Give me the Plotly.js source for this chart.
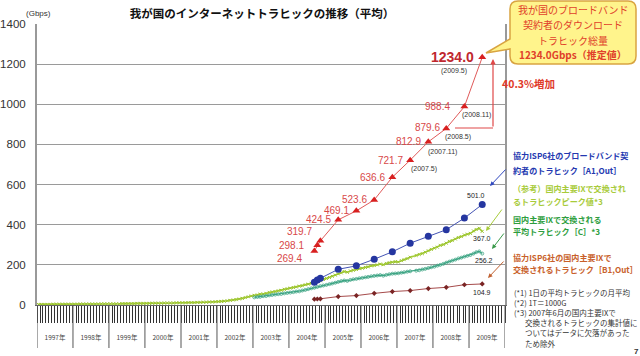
<!DOCTYPE html>
<html>
<head>
<meta charset="utf-8">
<script src="https://cdn.plot.ly/plotly-3.0.1.min.js"></script>
<style>html,body{margin:0;padding:0;background:#fff;}#chart{width:640px;height:356px;}</style>
</head>
<body>
<div id="chart"></div>
<script>
// ---------- data ----------
const years = [1997,1998,1999,2000,2001,2002,2003,2004,2005,2006,2007,2008,2009];

// (参考) 国内主要IXピーク値, monthly from 1997-01 (2007-06 excluded)
const peakValues = [
  3,3,3,3,3,4,4,4,4,4,4,4,
  4,4,5,5,5,5,5,5,5,6,6,6,
  6,6,6,6,7,7,7,7,7,8,8,8,
  8,8,9,9,9,9,10,10,10,10,11,11,
  11,11,12,12,12,13,13,14,14,15,15,16,
  17,18,19,21,23,25,27,30,33,37,41,45,
  48,50,54,55,58,63,65,67,71,73,78,81,
  84,87,90,94,96,101,104,108,111,117,121,127,
  132,137,143,149,155,160,167,163,170,173,177,181,
  183,187,190,195,197,200,204,201,207,211,213,216,
  214,221,226,231,238,null,247,252,256,263,270,277,
  283,288,297,301,308,317,321,329,336,341,349,353,
  357,369,376,382,367.0
];
// 国内主要IX平均トラヒック[C], monthly from 2003-01
const avgValues = [
  38,40,41,44,45,48,50,52,54,55,58,60,
  62,64,67,68,72,75,79,83,86,90,94,97,
  100,104,107,111,115,119,122,120,125,128,130,133,
  135,138,140,143,145,147,149,146,150,153,156,157,
  158,161,163,166,168,null,171,173,177,180,184,188,
  191,196,200,205,211,216,221,226,232,236,241,245,
  249,256,263,267,256.2
];

const surveyMonths = ['2004-09','2004-10','2004-11','2005-05','2005-11','2006-05','2006-11','2007-05','2007-11','2008-05','2008-11','2009-05'];
const totalValues = [269.4,298.1,319.7,424.5,469.1,523.6,636.6,721.7,812.9,879.6,988.4,1234.0];
const a1Values = [113,124,133,178,195,228,265,308,342,375,433,501.0];
const b1Values = [29,30,31,42,47,58,67,72,82,88,101,104.9];
const dateLabels = {'2007-05':'(2007.5)','2007-11':'(2007.11)','2008-05':'(2008.5)','2008-11':'(2008.11)','2009-05':'(2009.5)'};

// ---------- helpers / styles ----------
function monthlyDates(y0, m0, n){
  const out=[];
  for(let i=0;i<n;i++){
    const t=y0*12+(m0-1)+i, y=Math.floor(t/12), m=t%12+1;
    out.push(y+'-'+String(m).padStart(2,'0')+'-15');
  }
  return out;
}
const mid = s => s+'-15';
const L = 37, T = 24, W = 468, H = 281;
const PX = x => (x-L)/W;
const PY = y => (T+H-y)/H;
const FONT = 'Liberation Sans, Arial, Noto Sans CJK JP, sans-serif';
const JFONT = 'Noto Sans CJK JP, sans-serif';

const peakDates = monthlyDates(1997,1,peakValues.length);
const avgDates = monthlyDates(2003,1,avgValues.length);
const surveyDates = surveyMonths.map(mid);

const traces = [
  {x:peakDates, y:peakValues, mode:'lines+markers', connectgaps:true,
   line:{color:'#A6CE39', width:1.6}, marker:{symbol:'x-thin-open', size:3, color:'#9CC430', line:{width:1,color:'#9CC430'}}},
  {x:avgDates, y:avgValues, mode:'lines+markers', connectgaps:true,
   line:{color:'#3DA584', width:1.3}, marker:{symbol:'circle-open', size:3, color:'#3DA584', line:{width:0.8}}},
  {x:surveyDates, y:b1Values, mode:'lines+markers',
   line:{color:'#A64B4B', width:1}, marker:{symbol:'diamond', size:4, color:'#7A2424'}},
  {x:surveyDates, y:a1Values, mode:'lines+markers',
   line:{color:'#4454B4', width:1}, marker:{symbol:'circle', size:7, color:'#2536A0'}},
  {x:surveyDates, y:totalValues, mode:'lines+markers',
   line:{color:'#E05A5A', width:1}, marker:{symbol:'triangle-up', size:7, color:'#D82020'}}
];

// ---------- annotations ----------
const ann = [];
const redDx = [-10,-11,-6,-5,-5,-5,-5,-5,-5,-4,-12,-6];
const redDy = [-8,0,9,0,0,0,0,0,0,1,0,0];
totalValues.forEach((v,i)=>{
  const last = i===totalValues.length-1;
  ann.push({x:surveyDates[i], y:v, xref:'x', yref:'y', text: last?'<b>'+v.toFixed(1)+'</b>':v.toFixed(1),
    showarrow:false, xanchor:'right', yanchor:'middle', xshift:redDx[i], yshift:redDy[i],
    font:{family:FONT, size:last?14:10, color:last?'#C0282F':'#D84848'}});
});
const dLab = {'2007-05':[-1,-9,'left'],'2007-11':[-2,-10,'left'],'2008-05':[-3,-9,'left'],'2008-11':[-4,-8,'left'],'2009-05':[-28,-14,'center']};
surveyMonths.forEach((m,i)=>{
  if(dateLabels[m]){
    const s=dLab[m];
    ann.push({x:surveyDates[i], y:totalValues[i], xref:'x', yref:'y', text:dateLabels[m], showarrow:false,
      xanchor:s[2], yanchor:'middle', xshift:s[0], yshift:s[1], font:{family:FONT,size:7,color:'#333'}});
  }
});
// end value labels
const endLab = (x,y,dx,dy)=>({x:x,y:y,xref:'x',yref:'y',text:y.toFixed(1),showarrow:false,xanchor:'center',yanchor:'middle',xshift:dx,yshift:dy,font:{family:FONT,size:7,color:'#222'}});
ann.push(endLab(surveyDates[a1Values.length-1], a1Values[a1Values.length-1], -6, 9));
ann.push(endLab(peakDates[peakDates.length-1], peakValues[peakValues.length-1], 0, -7));
ann.push(endLab(avgDates[avgDates.length-1], avgValues[avgValues.length-1], 2, -7));
ann.push(endLab(surveyDates[b1Values.length-1], b1Values[b1Values.length-1], 0, -9));

// 40.3% bracket
ann.push({xref:'paper',yref:'paper',x:PX(493),y:PY(59),ax:0,ay:69,text:'',showarrow:true,arrowhead:2,arrowsize:0.9,arrowwidth:1.2,arrowcolor:'#E04848'});
ann.push({xref:'paper',yref:'paper',x:PX(500),y:PY(83),text:'<b>40.3%増加</b>',showarrow:false,xanchor:'left',yanchor:'middle',font:{family:JFONT,size:10.5,color:'#E03A2A'}});

// speech bubble text
const bub = [['我が国のブロードバンド',10],['契約者のダウンロード',25],['トラヒック総量',40],['<b>1234.0Gbps（推定値）</b>',55]];
bub.forEach(b=>ann.push({xref:'paper',yref:'paper',x:PX(573),y:PY(b[1]),text:b[0],showarrow:false,xanchor:'center',yanchor:'middle',font:{family:JFONT,size:10,color:'#E0402A'}}));

// side legend texts
const side = [
  ['<b>協力ISP6社のブロードバンド契</b>',155,'#2438B0'],
  ['<b>約者のトラヒック［A1,Out］</b>',170,'#2438B0'],
  ['<b>（参考）国内主要IXで交換され</b>',188,'#A8CB3A'],
  ['<b>るトラヒックピーク値*3</b>',201,'#A8CB3A'],
  ['<b>国内主要IXで交換される</b>',219,'#2E9E3E'],
  ['<b>平均トラヒック［C］*3</b>',231,'#2E9E3E'],
  ['<b>協力ISP6社の国内主要IXで</b>',257,'#C8602A'],
  ['<b>交換されるトラヒック［B1,Out］</b>',269,'#C8602A']
];
side.forEach(s=>ann.push({xref:'paper',yref:'paper',x:PX(511),y:PY(s[1]),text:s[0],showarrow:false,xanchor:'left',yanchor:'middle',font:{family:JFONT,size:8.1,color:s[2]}}));
const notes = [['(*1) 1日の平均トラヒックの月平均',292,512],['(*2) 1T＝1000G',302,512],['(*3) 2007年6月の国内主要IXで',312,512],
  ['交換されるトラヒックの集計値に',322,523],['ついてはデータに欠落があった',332,523],['ため除外',343,523]];
notes.forEach(n=>ann.push({xref:'paper',yref:'paper',x:PX(n[2]),y:PY(n[1]),text:n[0],showarrow:false,xanchor:'left',yanchor:'middle',font:{family:JFONT,size:7.5,color:'#333'}}));

// side arrows
const arrows = [[490,186,17,-18,'#3048C0'],[486,231,17,-23,'#A8CC3C'],[492,249,13,-17,'#3A9A4A'],[488,278,17,-18,'#C06030']];
arrows.forEach(a=>ann.push({xref:'paper',yref:'paper',x:PX(a[0]),y:PY(a[1]),ax:a[2],ay:a[3],text:'',showarrow:true,arrowhead:2,arrowsize:0.9,arrowwidth:1,arrowcolor:a[4]}));

// y unit & page number
ann.push({xref:'paper',yref:'paper',x:PX(38),y:PY(13),text:'(Gbps)',showarrow:false,xanchor:'center',yanchor:'middle',font:{family:FONT,size:8,color:'#333'}});
ann.push({xref:'paper',yref:'paper',x:PX(636),y:PY(351),text:'<b>7</b>',showarrow:false,xanchor:'center',yanchor:'middle',font:{family:FONT,size:8,color:'#333'}});

// ---------- shapes ----------
const shapes = [];
years.concat([2010]).forEach(y=>shapes.push({type:'line',xref:'x',yref:'paper',x0:y+'-01-01',x1:y+'-01-01',y0:0,y1:-43/H,line:{color:'#555',width:1}}));
// bracket horizontal
shapes.push({type:'line',xref:'paper',yref:'paper',x0:PX(455),x1:PX(493),y0:PY(128),y1:PY(128),line:{color:'#E04848',width:1.2}});
// speech bubble
(function(){
  const l=510,r=636,t=1,b=64,rad=8;
  const p = (x,y)=>PX(x)+','+PY(y);
  const d = 'M'+p(l+rad,t)+' L'+p(r-rad,t)+' Q'+p(r,t)+' '+p(r,t+rad)+' L'+p(r,b-rad)+' Q'+p(r,b)+' '+p(r-rad,b)+
    ' L'+p(l+rad,b)+' Q'+p(l,b)+' '+p(l,b-rad)+' L'+p(l,49)+' L'+p(486,53)+' L'+p(l,39)+' L'+p(l,t+rad)+' Q'+p(l,t)+' '+p(l+rad,t)+' Z';
  shapes.push({type:'path',xref:'paper',yref:'paper',path:d,fillcolor:'#FFF48C',line:{color:'#D9A441',width:1.5}});
})();

const layout = {
  width:640, height:356, autosize:false,
  margin:{l:L, r:640-L-W, t:T, b:356-T-H, pad:0},
  paper_bgcolor:'#fff', plot_bgcolor:'#fff', showlegend:false,
  title:{text:'<b>我が国のインターネットトラヒックの推移（平均）</b>', x:262/640, xref:'container', xanchor:'center', y:1-14/356, yref:'container', yanchor:'middle',
    font:{family:JFONT, size:11.5, color:'#111'}},
  xaxis:{type:'date', range:['1997-01-01','2010-01-01'], showgrid:false, zeroline:false,
    showline:true, linecolor:'#666', linewidth:1,
    tick0:'1997-01-01', dtick:'M12', ticks:'outside', ticklen:17, tickcolor:'#444', tickwidth:1,
    ticklabelmode:'period', tickformat:'%Y年', ticklabelstandoff:9,
    tickfont:{family:JFONT, size:6.5, color:'#444'},
    minor:{dtick:'M1', tick0:'1997-01-01', ticks:'outside', ticklen:17, tickcolor:'#333', tickwidth:1, showgrid:false}},
  yaxis:{range:[0,1400], tickvals:[0,200,400,600,800,1000,1200,1400], showgrid:true, gridcolor:'#9a9a9a', gridwidth:1,
    zeroline:false, showline:true, mirror:true, linecolor:'#999', linewidth:2, ticks:'', ticklabelstandoff:7,
    tickfont:{family:FONT, size:11.5, color:'#333'}},
  annotations:ann, shapes:shapes
};
Plotly.newPlot('chart', traces, layout, {displayModeBar:false, staticPlot:true});
</script>
</body>
</html>
